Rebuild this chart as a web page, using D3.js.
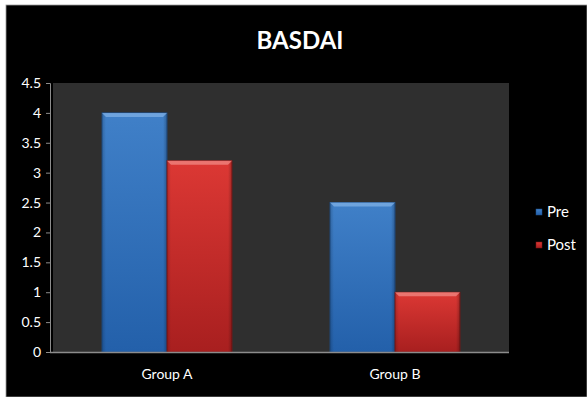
<!DOCTYPE html>
<html>
<head>
<meta charset="utf-8">
<script src="https://cdn.jsdelivr.net/npm/d3@7"></script>
<style>
  html, body { margin: 0; padding: 0; background: #fff; }
  svg { display: block; }
  text { font-family: Lato, "Open Sans", sans-serif; }
</style>
</head>
<body>
<script>
// BASDAI scores before and after treatment, per group
const categories = ["Group A", "Group B"];
const seriesNames = ["Pre", "Post"];
const preValues = [4, 2.5];
const postValues = [3.2, 1];
const yTicks = [0, 0.5, 1, 1.5, 2, 2.5, 3, 3.5, 4, 4.5];
const title = "BASDAI";

const W = 587, H = 397;
const plot = { left: 53, right: 509, top: 83, bottom: 352 };

const svg = d3.select("body").append("svg").attr("width", W).attr("height", H);

// outer frame: white page margin with black chart area
svg.append("rect").attr("width", W).attr("height", H).attr("fill", "#fff");
svg.append("rect").attr("x", 6).attr("y", 5).attr("width", W - 6).attr("height", H - 5)
  .attr("fill", "#000").attr("stroke", "#9a9a9a").attr("stroke-width", 0.8);

const defs = svg.append("defs");
const palettes = {
  Pre:  { top: "#4080c8", bottom: "#2360aa", edge: "#1c4f8c", bevel: "#7fb0e6" },
  Post: { top: "#dc3834", bottom: "#a81f1f", edge: "#7e1414", bevel: "#f08a84" }
};
seriesNames.forEach(s => {
  const g = defs.append("linearGradient").attr("id", "grad-" + s)
    .attr("x1", 0).attr("y1", 0).attr("x2", 0).attr("y2", 1);
  g.append("stop").attr("offset", "0%").attr("stop-color", palettes[s].top);
  g.append("stop").attr("offset", "100%").attr("stop-color", palettes[s].bottom);
  const h = defs.append("linearGradient").attr("id", "side-" + s)
    .attr("x1", 0).attr("y1", 0).attr("x2", 1).attr("y2", 0);
  h.append("stop").attr("offset", "0%").attr("stop-color", "#000").attr("stop-opacity", 0.18);
  h.append("stop").attr("offset", "6%").attr("stop-color", "#000").attr("stop-opacity", 0);
  h.append("stop").attr("offset", "94%").attr("stop-color", "#000").attr("stop-opacity", 0);
  h.append("stop").attr("offset", "100%").attr("stop-color", "#000").attr("stop-opacity", 0.25);
});

// plot area background
svg.append("rect")
  .attr("x", plot.left).attr("y", plot.top)
  .attr("width", plot.right - plot.left).attr("height", plot.bottom - plot.top)
  .attr("fill", "#2f2f2f");

const x0 = d3.scaleBand().domain(categories).range([plot.left, plot.right]).paddingInner(0.43).paddingOuter(0.215);
const x1 = d3.scaleBand().domain(seriesNames).range([0, x0.bandwidth()]);
const y = d3.scaleLinear().domain([0, 4.5]).range([plot.bottom, plot.top]);

const rows = categories.map((c, i) => ({
  category: c,
  values: [{ s: "Pre", v: preValues[i] }, { s: "Post", v: postValues[i] }]
}));

const groups = svg.append("g").selectAll("g").data(rows).join("g")
  .attr("transform", d => `translate(${x0(d.category)},0)`);

const bars = groups.selectAll("g.bar").data(d => d.values).join("g").attr("class", "bar");
bars.append("rect")
  .attr("x", d => x1(d.s)).attr("y", d => y(d.v))
  .attr("width", x1.bandwidth()).attr("height", d => y(0) - y(d.v))
  .attr("fill", d => `url(#grad-${d.s})`)
  .attr("stroke", d => palettes[d.s].edge).attr("stroke-width", 0.8);
bars.append("rect")
  .attr("x", d => x1(d.s)).attr("y", d => y(d.v))
  .attr("width", x1.bandwidth()).attr("height", d => y(0) - y(d.v))
  .attr("fill", d => `url(#side-${d.s})`);
// bevelled top edge
bars.append("path")
  .attr("d", d => {
    const xl = x1(d.s), xr = xl + x1.bandwidth(), yt = y(d.v), b = 4;
    return `M${xl},${yt}L${xr},${yt}L${xr - b},${yt + b}L${xl + b},${yt + b}Z`;
  })
  .attr("fill", d => palettes[d.s].bevel).attr("opacity", 0.75);

// y axis
const yAxis = svg.append("g").attr("transform", `translate(${plot.left - 3},0)`)
  .call(d3.axisLeft(y).tickValues(yTicks).tickSize(4).tickPadding(5).tickFormat(d3.format("")));
yAxis.select(".domain").attr("stroke", "#8c8c8c");
yAxis.selectAll(".tick line").attr("stroke", "#8c8c8c");
yAxis.selectAll(".tick text").attr("fill", "#fff").style("font-size", "14px");

// x axis
const xAxis = svg.append("g").attr("transform", `translate(0,${plot.bottom})`)
  .call(d3.axisBottom(x0).tickSize(0).tickPadding(17));
xAxis.select(".domain").attr("d", `M${plot.left - 3},0.5H${plot.right}`).attr("stroke", "#8c8c8c").attr("stroke-width", 1.5);
xAxis.selectAll(".tick text").attr("fill", "#fff").style("font-size", "14px");

// title
svg.append("text").attr("x", 300).attr("y", 49).attr("text-anchor", "middle")
  .attr("fill", "#fff").style("font-size", "24px").style("font-weight", "bold").text(title);

// legend
const legend = svg.append("g").selectAll("g").data(seriesNames).join("g")
  .attr("transform", (d, i) => `translate(536,${209 + i * 33})`);
legend.append("rect").attr("width", 6).attr("height", 6)
  .attr("fill", d => `url(#grad-${d})`).attr("stroke", d => palettes[d].edge).attr("stroke-width", 0.5);
legend.append("text").attr("x", 11).attr("y", 8).attr("fill", "#fff")
  .style("font-size", "15px").text(d => d);
</script>
</body>
</html>
